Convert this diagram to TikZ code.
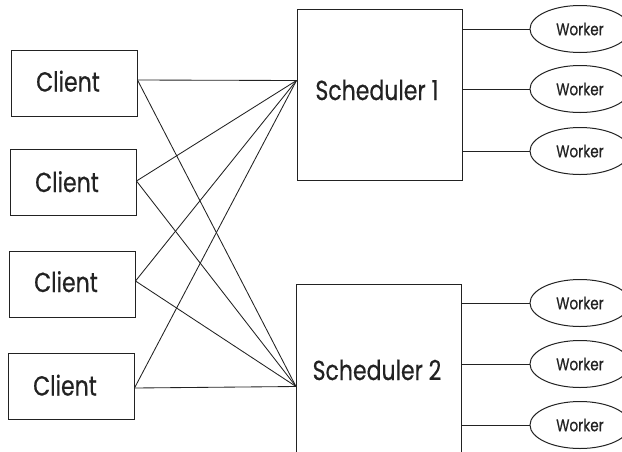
\documentclass[tikz,border=0pt]{standalone}
\usepackage{fontspec}
\newfontfamily\diagfont[FakeStretch=0.8,FakeBold=0.5]{Poppins}
\usetikzlibrary{shapes.geometric,calc}
\definecolor{ink}{HTML}{222222}
\begin{document}
\begin{tikzpicture}[x=1pt,y=-1pt,
  every node/.style={font=\diagfont},
  bigtext/.style={anchor=base,inner sep=0pt,text=ink,font=\diagfont\fontsize{27.5}{29}\selectfont},
  clientbox/.style={draw=ink,line width=1pt,minimum width=126pt,minimum height=66pt,inner sep=0pt},
  schedbox/.style={draw=ink,line width=1pt,minimum width=165pt,minimum height=171pt,inner sep=0pt},
  workerell/.style={draw=ink,line width=1pt,ellipse,minimum width=100pt,minimum height=47pt,inner sep=0pt,font=\diagfont\fontsize{17}{19}\selectfont,text=ink},
  link/.style={draw=ink,line width=0.85pt}]
\useasboundingbox (0,0) rectangle (622,451);
\clip (0,0) rectangle (622,451);
\fill[white] (0,0) rectangle (622,451);
\node[clientbox] (c1) at (74,83) {};
\node[clientbox] (c2) at (73,182) {};
\node[clientbox] (c3) at (72,284) {};
\node[clientbox] (c4) at (71,386) {};
\node[bigtext] (c1t) at ($(c1.center)+(-6,8.5)$) {Client};
\node[bigtext] (c2t) at ($(c2.center)+(-6,10)$) {Client};
\node[bigtext] (c3t) at ($(c3.center)+(-6,8)$) {Client};
\node[bigtext] (c4t) at ($(c4.center)+(-6,9.5)$) {Client};
\coordinate (c1out) at ($(c1.east)+(0,-3)$);
\coordinate (c2out) at ($(c2.east)+(0,-1)$);
\coordinate (c3out) at ($(c3.east)+(0,-3)$);
\coordinate (c4out) at ($(c4.east)+(0,2)$);
\node[schedbox] (s1) at (379.5,94.5) {};
\node[schedbox] (s2) at (379,369.5) {};
\node[bigtext] (s1t) at (377,100) {Scheduler 1};
\node[bigtext] (s2t) at (377,380) {Scheduler 2};
\coordinate (s1in) at ($(s1.north west)+(0,72)$);
\coordinate (s2in) at ($(s2.north west)+(0,103)$);
\foreach \c in {c1out,c2out,c3out,c4out}{
  \draw[link] (\c) -- (s1in);
  \draw[link] (\c) -- (s2in);
}
\node[workerell] (w1) at (580,29) {Worker};
\node[workerell] (w2) at (580,89) {Worker};
\node[workerell] (w3) at (580,151) {Worker};
\node[workerell] (w4) at (580,303) {Worker};
\node[workerell] (w5) at (580,364) {Worker};
\node[workerell] (w6) at (580,425) {Worker};
\foreach \w in {w1,w2,w3}{\draw[link] (\w.west -| s1.east) -- (\w.west);}
\foreach \w in {w4,w5,w6}{\draw[link] (\w.west -| s2.east) -- (\w.west);}
\end{tikzpicture}
\end{document}
